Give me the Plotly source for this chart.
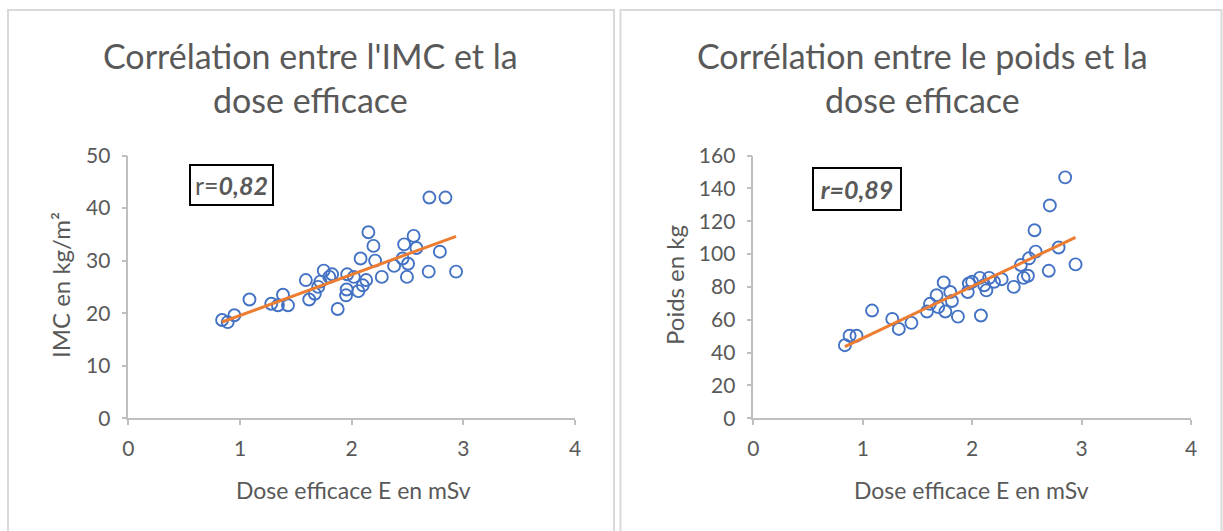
import numpy as np
import plotly.graph_objects as go

W, H = 1223, 531

# ---- Data ----
dose_imc = [0.84, 0.89, 0.95, 1.085, 1.28, 1.34, 1.385, 1.43, 1.59, 1.62, 1.67, 1.70, 1.72, 1.75,
            1.80, 1.825, 1.875, 1.95, 1.955, 1.96, 2.02, 2.06, 2.08, 2.10, 2.13, 2.15, 2.195, 2.21,
            2.27, 2.38, 2.456, 2.47, 2.495, 2.505, 2.555, 2.58, 2.696, 2.69, 2.79, 2.84, 2.935]
imc = [18.7, 18.3, 19.6, 22.6, 21.8, 21.5, 23.5, 21.5, 26.3, 22.6, 23.7, 25.0, 26.0, 28.1,
       26.9, 27.4, 20.8, 23.4, 24.5, 27.4, 26.9, 24.2, 30.4, 25.3, 26.3, 35.4, 32.8, 30.0,
       26.9, 29.0, 30.4, 33.1, 26.9, 29.4, 34.7, 32.4, 42.0, 27.9, 31.7, 42.0, 27.9]

dose_poids = [0.837, 0.88, 0.943, 1.085, 1.27, 1.33, 1.445, 1.587, 1.615, 1.675, 1.69, 1.74, 1.755,
              1.80, 1.815, 1.87, 1.96, 1.97, 2.00, 2.07, 2.08, 2.11, 2.13, 2.155, 2.20, 2.27, 2.38,
              2.445, 2.47, 2.51, 2.52, 2.57, 2.58, 2.70, 2.71, 2.79, 2.85, 2.945]
poids = [44.5, 50.3, 50.3, 65.6, 60.5, 54.4, 58.1, 65.0, 69.7, 74.9, 67.7, 82.7, 65.0,
         76.9, 71.4, 61.9, 76.9, 82.1, 83.1, 85.5, 62.6, 81.0, 77.9, 85.5, 83.1, 84.7, 80.0,
         93.3, 85.5, 86.8, 97.4, 114.5, 101.5, 89.8, 129.6, 104.0, 146.7, 93.7]

x_ticks = [0, 1, 2, 3, 4]
imc_ticks = [0, 10, 20, 30, 40, 50]
poids_ticks = [0, 20, 40, 60, 80, 100, 120, 140, 160]

title_left = ["Corrélation entre l'IMC et la", "dose efficace"]
title_right = ["Corrélation entre le poids et la", "dose efficace"]
xlabel = "Dose efficace E en mSv"
ylabel_left = "IMC en kg/m²"
ylabel_right = "Poids en kg"
r_left = "r=<b><i>0,82</i></b>"
r_right = "<b><i>r=0,89</i></b>"

# ---- Style ----
FONT = "Lato"
TXT = "#595959"
AXC = "#bfbfbf"
BLUE = "#4472C4"
ORANGE = "#ED7D31"

def px(x):
    return x / W

def py(y):
    return 1 - y / H

def trend(x, y):
    x = np.asarray(x); y = np.asarray(y)
    a, b = np.polyfit(x, y, 1)
    xs = np.array([x.min(), x.max()])
    return xs, a * xs + b

fig = go.Figure()

marker = dict(symbol="circle-open", size=12, color=BLUE, line=dict(width=1.9, color=BLUE))

fig.add_trace(go.Scatter(x=dose_imc, y=imc, mode="markers", xaxis="x", yaxis="y",
                         marker=marker, showlegend=False))
tx, ty = trend(dose_imc, imc)
fig.add_trace(go.Scatter(x=tx, y=ty, mode="lines", xaxis="x", yaxis="y",
                         line=dict(color=ORANGE, width=3), showlegend=False))

fig.add_trace(go.Scatter(x=dose_poids, y=poids, mode="markers", xaxis="x2", yaxis="y2",
                         marker=marker, showlegend=False))
tx2, ty2 = trend(dose_poids, poids)
fig.add_trace(go.Scatter(x=tx2, y=ty2, mode="lines", xaxis="x2", yaxis="y2",
                         line=dict(color=ORANGE, width=3), showlegend=False))

common_axis = dict(showgrid=False, zeroline=False, showline=True, linecolor=AXC, linewidth=1.5,
                   ticks="outside", ticklen=5, tickcolor=AXC, tickwidth=1.5,
                   tickfont=dict(family=FONT, size=21, color=TXT), fixedrange=True)

fig.update_layout(
    width=W, height=H,
    margin=dict(l=0, r=0, t=0, b=0, pad=0, autoexpand=False),
    paper_bgcolor="white", plot_bgcolor="white",
    xaxis=dict(domain=[px(128.3), px(575)], range=[0, 4], tickvals=x_ticks,
               anchor="y", ticklabelstandoff=6, **common_axis),
    yaxis=dict(domain=[py(418.3), py(155.5)], range=[0, 50], tickvals=imc_ticks,
               anchor="x", ticklabelstandoff=7, **common_axis),
    xaxis2=dict(domain=[px(753.3), px(1191)], range=[0, 4], tickvals=x_ticks,
                anchor="y2", ticklabelstandoff=6, **common_axis),
    yaxis2=dict(domain=[py(418.3), py(155.5)], range=[0, 160], tickvals=poids_ticks,
                anchor="x2", ticklabelstandoff=7, **common_axis),
)

annotations = []
def text_ann(x, y, text, size, angle=0):
    annotations.append(dict(x=px(x), y=py(y), xref="paper", yref="paper", text=text,
                            showarrow=False, xanchor="center", yanchor="middle",
                            textangle=angle, font=dict(family=FONT, size=size, color=TXT)))

text_ann(310, 56, title_left[0], 34)
text_ann(310, 100, title_left[1], 34)
text_ann(922, 56, title_right[0], 34)
text_ann(922, 100, title_right[1], 34)
text_ann(353, 490, xlabel, 23)
text_ann(971, 490, xlabel, 23)
text_ann(60, 285, ylabel_left, 24, -90)
text_ann(674, 285, ylabel_right, 24, -90)

annotations.append(dict(x=px(231.5), y=py(185), xref="paper", yref="paper", text=r_left,
                        showarrow=False, xanchor="center", yanchor="middle",
                        width=81, height=38, borderpad=0, bordercolor="black", borderwidth=2,
                        bgcolor="white", font=dict(family=FONT, size=25, color=TXT)))
annotations.append(dict(x=px(857), y=py(189), xref="paper", yref="paper", text=r_right,
                        showarrow=False, xanchor="center", yanchor="middle",
                        width=86, height=40, borderpad=0, bordercolor="black", borderwidth=2,
                        bgcolor="white", font=dict(family=FONT, size=25, color=TXT)))
fig.update_layout(annotations=annotations)

# chart frames
fig.add_shape(type="rect", xref="paper", yref="paper", x0=px(8), x1=px(614), y0=-0.05, y1=py(10),
              line=dict(color="#d9d9d9", width=2), layer="below")
fig.add_shape(type="rect", xref="paper", yref="paper", x0=px(620.5), x1=px(1221.5), y0=-0.05, y1=py(10),
              line=dict(color="#d9d9d9", width=2), layer="below")

fig.write_html("out.html", config={"displayModeBar": False},
               post_script="document.body.style.margin='0';document.body.style.overflow='hidden';")
